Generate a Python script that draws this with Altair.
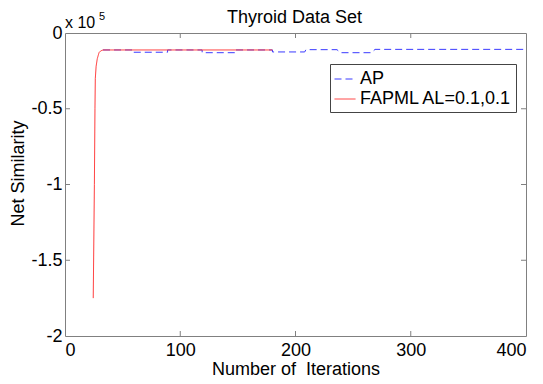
import altair as alt
import pandas as pd

# ---- data (values in units of 1e5) ----
ap_iter = [33, 59, 59, 89, 89, 119, 119, 148, 148, 180, 180, 208, 209, 236, 239, 266, 269, 400]
ap_val = [-0.112, -0.112, -0.127, -0.127, -0.112, -0.112, -0.130, -0.130, -0.112, -0.112,
          -0.125, -0.125, -0.110, -0.110, -0.130, -0.130, -0.108, -0.108]
fapml_iter = [24.5, 25.5, 26, 26.3, 27, 28, 29.5, 31, 33, 180]
fapml_val = [-1.75, -1.0, -0.5, -0.3, -0.22, -0.17, -0.13, -0.118, -0.112, -0.112]

series_names = ["AP", "FAPML AL=0.1,0.1"]
series_colors = ["#3a3aff", "#ff3030"]
x_ticks = [0, 100, 200, 300, 400]
y_ticks = [0, -0.5, -1, -1.5, -2]
x_inner_ticks = [100, 200, 300]
y_inner_ticks = [-0.5, -1, -1.5]

W, H = 461, 303
FONT = "Liberation Sans"

rows = []
for i, (x, y) in enumerate(zip(ap_iter, ap_val)):
    rows.append({"series": series_names[0], "iter": x, "val": y, "ord": i})
for i, (x, y) in enumerate(zip(fapml_iter, fapml_val)):
    rows.append({"series": series_names[1], "iter": x, "val": y, "ord": i})
df = pd.DataFrame(rows)

xscale = alt.Scale(domain=[0, 400], nice=False, zero=False)
yscale = alt.Scale(domain=[-2, 0], nice=False, zero=False)

lines = alt.Chart(df).mark_line(strokeWidth=1, clip=True).encode(
    x=alt.X("iter:Q", scale=xscale,
            axis=alt.Axis(values=x_ticks, format="d", title="Number of\u00a0 Iterations",
                          titleY=38, titleBaseline="alphabetic", labelPadding=5)),
    y=alt.Y("val:Q", scale=yscale,
            axis=alt.Axis(values=y_ticks, labelExpr="datum.value + ''", title="Net Similarity",
                          titleX=-42, titleY=140, titleBaseline="alphabetic", labelPadding=3)),
    color=alt.Color("series:N", title=None,
                    scale=alt.Scale(domain=series_names, range=series_colors)),
    strokeDash=alt.StrokeDash("series:N", title=None,
                              scale=alt.Scale(domain=series_names, range=[[7, 4], [1, 0]])),
    order="ord:Q",
)

xt = pd.DataFrame({"t": x_inner_ticks})
yt = pd.DataFrame({"t": y_inner_ticks})
tick_color = "#808080"
xb = alt.Chart(xt).mark_rule(color=tick_color, strokeWidth=1).encode(
    x=alt.X("t:Q", scale=xscale), y=alt.value(H), y2=alt.value(H - 5))
xtop = alt.Chart(xt).mark_rule(color=tick_color, strokeWidth=1).encode(
    x=alt.X("t:Q", scale=xscale), y=alt.value(0), y2=alt.value(5))
yl = alt.Chart(yt).mark_rule(color=tick_color, strokeWidth=1).encode(
    y=alt.Y("t:Q", scale=yscale), x=alt.value(0), x2=alt.value(5))
yr = alt.Chart(yt).mark_rule(color=tick_color, strokeWidth=1).encode(
    y=alt.Y("t:Q", scale=yscale), x=alt.value(W - 5), x2=alt.value(W))

exp_main = alt.Chart(pd.DataFrame({"t": ["x 10"]})).mark_text(
    align="left", baseline="alphabetic", font=FONT, fontSize=16, color="black"
).encode(text="t:N", x=alt.value(0), y=alt.value(-5))
exp_sup = alt.Chart(pd.DataFrame({"t": ["5"]})).mark_text(
    align="left", baseline="alphabetic", font=FONT, fontSize=11, color="black"
).encode(text="t:N", x=alt.value(34), y=alt.value(-13))

title_txt = alt.Chart(pd.DataFrame({"t": ["Thyroid Data Set"]})).mark_text(
    align="center", baseline="alphabetic", font=FONT, fontSize=18, color="black"
).encode(text="t:N", x=alt.value(W / 2 - 1), y=alt.value(-10))

chart = alt.layer(lines, xb, xtop, yl, yr, exp_main, exp_sup, title_txt).properties(
    width=W, height=H,
    autosize=alt.AutoSizeParams(type="none"),
    padding={"left": 65, "top": 33, "right": 17, "bottom": 48},
    background="white",
).configure_view(
    stroke="#808080", strokeWidth=1
).configure_axis(
    domain=False, ticks=False, grid=False,
    labelFont=FONT, labelFontSize=18, labelColor="black",
    titleFont=FONT, titleFontSize=18, titleFontWeight="normal", titleColor="black",
).configure_legend(
    orient="none", legendX=265, legendY=31,
    symbolType="stroke", symbolSize=441, symbolStrokeWidth=1,
    labelFont=FONT, labelFontSize=18, labelColor="black", labelOffset=4,
    padding=4, rowPadding=0, strokeColor="#444444", fillColor="white",
    labelLimit=300,
)

chart.save("out.html", embed_options={"renderer": "svg", "actions": False})
